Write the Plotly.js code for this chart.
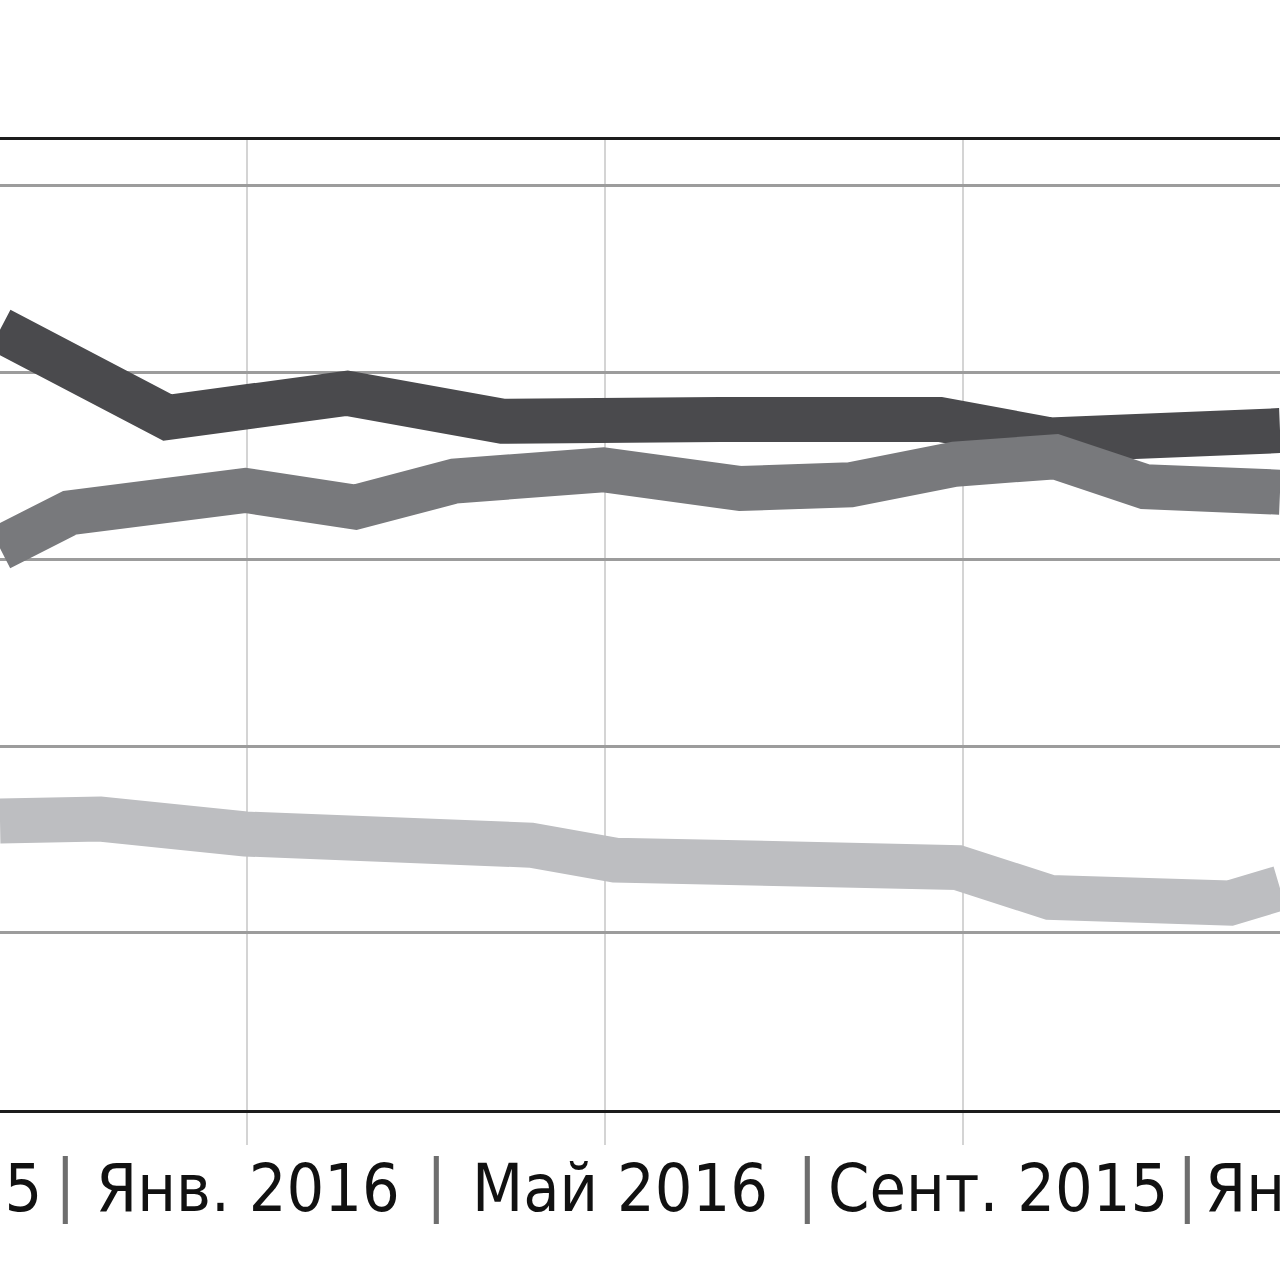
<!DOCTYPE html>
<html>
<head>
<meta charset="utf-8">
<script src="https://cdn.plot.ly/plotly-3.0.1.min.js"></script>
<style>html,body{margin:0;padding:0;background:#fff;}#chart{width:1280px;height:1280px;}</style>
</head>
<body>
<div id="chart"></div>
<script>
// x = months relative to Jan 2016 (0 = Янв. 2016, 4 = Май, 8 = Сент.)
const darkX  = [-2.76, -1.44, -0.89, 1.12, 2.85, 5.28, 7.74, 8.97, 9.98, 10.54, 11.54];
const darkY  = [42.3, 38.7, 37.6, 38.9, 37.4, 37.5, 37.5, 36.4, 36.7, 36.8, 36.9];

const midX   = [-2.76, -1.98, -0.02, 1.21, 2.32, 3.27, 3.98, 5.51, 6.74, 7.91, 9.03, 10.03, 10.87, 11.54];
const midY   = [30.6, 32.5, 33.7, 32.8, 34.2, 34.5, 34.8, 33.8, 34.0, 35.1, 35.5, 33.9, 33.7, 33.6];

const lightX = [-2.76, -1.64, -0.02, 0.98, 2.03, 3.17, 4.11, 6.18, 7.94, 8.97, 9.98, 10.98, 11.54];
const lightY = [16.0, 16.1, 15.3, 15.1, 14.6, 14.7, 13.9, 13.9, 13.5, 11.9, 11.8, 11.6, 12.4];

const gridMonths = [-4, 0, 4, 8, 12];
const yGrid = [10, 20, 30, 40, 50];

// category labels along the bottom (positions as fraction of plot width)
const tickLabels = ["Сент. 2015", "Янв. 2016", "Май 2016", "Сент. 2015", "Янв. 2017"];
const tickLabelPos = [-0.100, 0.194, 0.484, 0.780, 1.060];
const separatorPos = [0.051, 0.341, 0.631, 0.928];

const FONT = "'Liberation Sans Narrow', 'DejaVu Sans Condensed', 'Roboto Condensed', 'Liberation Sans', sans-serif";

const traces = [
  {x: lightX, y: lightY, mode: 'lines', line: {color: '#bdbec1', width: 45}, hoverinfo: 'skip'},
  {x: darkX,  y: darkY,  mode: 'lines', line: {color: '#4a4a4d', width: 45}, hoverinfo: 'skip'},
  {x: midX,   y: midY,   mode: 'lines', line: {color: '#78797c', width: 45}, hoverinfo: 'skip'}
];

const labelY = -0.081;
const annotations = [];
tickLabels.forEach((t, i) => annotations.push({
  x: tickLabelPos[i], xref: 'paper', y: labelY, yref: 'paper', text: t, showarrow: false,
  xanchor: 'center', yanchor: 'middle', font: {family: FONT, size: 66, color: '#111111'}
}));
separatorPos.forEach(p => annotations.push({
  x: p, xref: 'paper', y: -0.077, yref: 'paper', text: '|', showarrow: false,
  xanchor: 'center', yanchor: 'middle', font: {family: FONT, size: 68, color: '#6e6e6e'}
}));

const layout = {
  width: 1280, height: 1280,
  margin: {l: 0, r: 0, t: 140, b: 170, pad: 0},
  paper_bgcolor: '#ffffff', plot_bgcolor: '#ffffff',
  showlegend: false,
  xaxis: {
    range: [-2.76, 11.54], tickvals: gridMonths, showticklabels: false,
    showgrid: true, gridcolor: '#d4d4d4', gridwidth: 2, zeroline: false,
    showline: true, linecolor: '#1c1c1c', linewidth: 3, mirror: true,
    ticks: 'outside', ticklen: 32, tickcolor: '#d4d4d4', tickwidth: 2
  },
  yaxis: {
    range: [0.52, 52.46], tickvals: yGrid, showticklabels: false,
    showgrid: true, gridcolor: '#9c9c9c', gridwidth: 3, zeroline: false,
    showline: false, ticks: ''
  },
  annotations: annotations
};

Plotly.newPlot('chart', traces, layout, {displayModeBar: false, staticPlot: true});
</script>
</body>
</html>
